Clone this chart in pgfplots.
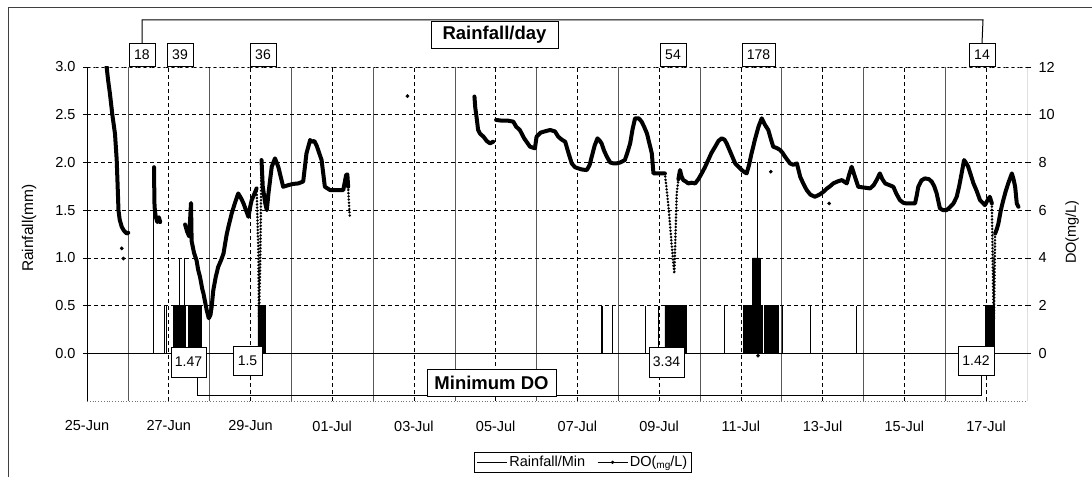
\documentclass[border=0pt]{standalone}
\usepackage{pgfplots}
\pgfplotsset{compat=1.18}
\usepackage{fontspec}
\setmainfont{Liberation Sans}
\begin{document}
\begin{tikzpicture}[x=1pt,y=1pt]
\path[use as bounding box] (0,0) rectangle (1092,477);
\draw[black!75, line width=1pt] (8,0) -- (8,469) -- (1092,469);

% ---------------- Rainfall axis (left) ----------------
\begin{axis}[
  at={(87pt,76pt)}, anchor=south west,
  width=940pt, height=334pt, scale only axis,
  xmin=0, xmax=23, ymin=-0.5, ymax=3,
  axis line style={draw=none},
  xtick={0,2,...,22},
  xticklabels={25-Jun,27-Jun,29-Jun,01-Jul,03-Jul,05-Jul,07-Jul,09-Jul,11-Jul,13-Jul,15-Jul,17-Jul},
  minor xtick={1,3,...,21},
  ytick={0,0.5,1,1.5,2,2.5,3},
  yticklabels={0.0,0.5,1.0,1.5,2.0,2.5,3.0},
  xmajorgrids, xminorgrids, ymajorgrids,
  major grid style={black, line width=0.6pt, dash pattern=on 4pt off 3pt},
  minor grid style={black!65, line width=0.6pt, solid},
  xtick style={draw=none}, minor x tick style={draw=none},
  ytick style={black, line width=0.6pt},
  tick align=outside, major tick length=4pt,
  ytick pos=left,
  tick label style={font=\fontsize{14.5}{16}\selectfont},
  xticklabel style={yshift=-12pt},
  yticklabel style={xshift=-4pt},
]
\draw[black!55, line width=0.8pt, dotted] (rel axis cs:0,1) -- (rel axis cs:1,1);
\draw[black!55, line width=0.8pt, dotted] (rel axis cs:0,0) -- (rel axis cs:1,0);
\draw[black, line width=0.9pt] (axis cs:0,0) -- (axis cs:23,0);
\draw[black, line width=0.9pt] (rel axis cs:0,0) -- (rel axis cs:0,1);
\draw[black, line width=0.9pt] (rel axis cs:1,0) -- (rel axis cs:1,1);

% rainfall per minute: dense blocks
\addplot[black, line width=0.6pt, fill=black, mark=none, forget plot] coordinates {
(2.11,0)(2.11,0.5)(2.40,0.5)(2.40,0)
(2.48,0)(2.48,0.5)(2.76,0.5)(2.76,0)
(4.18,0)(4.18,0.5)(4.36,0.5)(4.36,0)
(14.14,0)(14.14,0.5)(14.66,0.5)(14.66,0)
(16.06,0)(16.06,0.5)(16.28,0.5)(16.28,1.0)(16.47,1.0)(16.47,0.5)(16.53,0.5)(16.53,0)
(16.57,0)(16.57,0.5)(16.91,0.5)(16.91,0)
(21.98,0)(21.98,0.5)(22.20,0.5)(22.20,0)
};
% rainfall per minute: isolated minutes
\addplot[ycomb, black, line width=0.9pt, mark=none, forget plot] coordinates {
(1.62,1.5)(1.89,0.5)(1.95,0.5)(2.25,1.0)(2.38,1.0)(2.81,0.5)
(12.59,0.5)(12.61,0.5)(12.86,0.5)(13.67,0.5)(13.98,0.5)(15.60,0.5)
(16.40,2.0)(17.01,0.5)(17.70,0.5)(18.83,0.5)
};
\end{axis}

% ---------------- DO axis (right) ----------------
\begin{axis}[
  at={(87pt,76pt)}, anchor=south west,
  width=940pt, height=334pt, scale only axis,
  xmin=0, xmax=23, ymin=-2, ymax=12,
  axis x line=none, axis y line*=right,
  axis line style={draw=none},
  ytick={0,2,...,12},
  ytick style={black, line width=0.6pt},
  tick align=outside, major tick length=4pt,
  tick label style={font=\fontsize{14.5}{16}\selectfont},
  /pgf/number format/assume math mode=true,
  yticklabel style={xshift=4pt},
  unbounded coords=jump,
  legend columns=2,
  legend style={at={(0.5277,-0.1527)}, anchor=north, draw=black, line width=0.6pt,
    font=\fontsize{14.5}{16}\selectfont, inner sep=2pt,
    /tikz/every even column/.append style={column sep=10pt}},
  legend image code/.code={\draw[mark repeat=2,mark phase=2,#1] plot coordinates {(0pt,0pt) (15pt,0pt) (30pt,0pt)};},
]
\addlegendimage{black, line width=0.7pt}
\addlegendentry{Rainfall/Min}
\addlegendimage{black, line width=0.7pt, mark=*, mark size=1.3pt}
\addlegendentry{DO(\raisebox{-1.5pt}{\fontsize{10}{10}\selectfont mg}/L)}

% DO main trace
\addplot[black, line width=4pt, line join=round, line cap=round, mark=none, forget plot] coordinates {
(0.46,12.4)(0.48,12.0)(0.52,11.4)(0.56,10.9)(0.62,10.0)(0.685,9.2)(0.727,8.1)(0.75,7.0)(0.77,6.0)(0.80,5.6)(0.85,5.3)(0.90,5.15)(0.97,5.02)(1.01,5.05)
(1.3,nan)
(1.64,7.8)(1.645,7.0)(1.65,6.3)(1.66,6.0)(1.68,5.75)(1.72,5.5)(1.76,5.7)(1.79,5.5)
(2.0,nan)
(2.40,5.4)(2.45,5.1)(2.50,4.9)(2.545,6.3)(2.56,4.7)(2.62,4.2)(2.68,3.9)(2.72,3.5)(2.765,3.2)(2.82,2.7)(2.85,2.5)(2.93,1.8)(2.98,1.47)(3.02,1.6)(3.05,1.94)(3.09,2.64)(3.15,3.2)(3.21,3.62)(3.28,3.9)(3.34,4.18)(3.38,4.6)(3.42,5.0)(3.46,5.3)(3.54,5.86)(3.62,6.3)(3.70,6.70)(3.77,6.5)(3.83,6.28)(3.90,5.95)(3.95,5.72)(4.00,6.2)(4.03,6.42)(4.10,6.7)(4.15,6.91)
(4.2,nan)
(4.27,8.10)(4.30,7.0)(4.36,6.3)(4.40,6.0)(4.44,6.70)(4.52,7.82)(4.60,8.17)(4.68,7.82)(4.80,6.98)(4.93,7.05)(5.05,7.10)(5.17,7.12)(5.29,7.2)(5.37,8.38)(5.46,8.94)(5.50,8.87)(5.56,8.9)(5.62,8.70)(5.74,8.10)(5.82,6.98)(5.95,6.84)(6.10,6.84)(6.27,6.84)(6.34,7.47)(6.37,7.5)(6.39,6.98)
(7.0,nan)
(9.48,10.76)(9.50,10.3)(9.53,9.92)(9.57,9.36)(9.62,9.2)(9.70,9.08)(9.78,8.9)(9.86,8.80)(9.94,8.87)
(9.97,nan)
(10.01,9.78)(10.15,9.75)(10.30,9.75)(10.43,9.71)(10.50,9.5)(10.59,9.36)(10.70,9.0)(10.84,8.66)(10.96,8.59)
(11.00,9.08)(11.10,9.25)(11.20,9.30)(11.33,9.36)(11.45,9.30)(11.53,9.08)(11.62,8.95)(11.70,8.87)(11.78,8.4)(11.86,7.96)(11.94,7.8)(12.02,7.75)(12.12,7.70)(12.23,7.68)(12.30,7.9)(12.35,8.24)(12.42,8.7)(12.49,9.01)(12.55,8.9)(12.59,8.80)(12.65,8.5)(12.72,8.24)(12.80,8.0)(12.88,7.96)(12.96,7.96)(13.05,8.0)(13.16,8.10)(13.22,8.4)(13.29,8.80)(13.35,9.4)(13.41,9.85)(13.50,9.85)(13.57,9.71)(13.63,9.5)(13.70,9.22)(13.76,8.8)(13.82,8.38)(13.86,7.54)(13.95,7.54)(14.05,7.54)(14.14,7.54)
(14.3,nan)
(14.47,7.3)(14.51,7.68)(14.55,7.4)(14.59,7.26)(14.65,7.2)(14.71,7.12)(14.80,7.15)(14.88,7.12)(14.96,7.3)(15.04,7.54)(15.12,7.8)(15.20,8.10)(15.28,8.4)(15.37,8.66)(15.45,8.9)(15.53,9.01)(15.60,8.95)(15.65,8.80)(15.75,8.4)(15.86,7.96)(15.95,7.8)(16.02,7.68)(16.08,7.6)(16.14,7.54)(16.20,7.9)(16.26,8.38)(16.35,9.0)(16.43,9.50)(16.51,9.85)(16.58,9.6)(16.67,9.36)(16.73,9.0)(16.79,8.66)(16.88,8.6)(16.96,8.52)(17.02,8.4)(17.08,8.24)(17.20,7.96)(17.28,7.9)(17.37,7.96)(17.45,7.40)(17.53,7.1)(17.61,6.84)(17.70,6.65)(17.81,6.56)(17.92,6.65)(18.02,6.77)(18.10,6.9)(18.18,7.0)(18.26,7.12)(18.36,7.2)(18.47,7.26)(18.59,7.12)(18.65,7.5)(18.71,7.82)(18.79,7.40)(18.87,6.98)(19.00,6.95)(19.16,6.91)(19.25,7.05)(19.32,7.26)(19.40,7.54)(19.46,7.3)(19.53,7.12)(19.63,7.05)(19.73,6.98)(19.80,6.7)(19.89,6.42)(19.98,6.3)(20.06,6.28)(20.16,6.28)(20.26,6.28)(20.30,6.6)(20.34,6.98)(20.42,7.25)(20.50,7.33)(20.60,7.3)(20.67,7.19)(20.73,7.0)(20.79,6.70)(20.84,6.3)(20.87,6.07)(20.95,6.0)(21.03,6.00)(21.10,6.1)(21.20,6.28)(21.28,6.56)(21.34,7.0)(21.40,7.54)(21.46,8.10)(21.52,7.95)(21.56,7.82)(21.62,7.5)(21.69,7.12)(21.77,6.8)(21.85,6.42)(21.92,6.3)(21.97,6.21)(22.03,6.4)(22.09,6.56)(22.14,6.28)
(22.17,nan)
(22.22,5.02)(22.26,5.2)(22.30,5.44)(22.36,6.0)(22.42,6.42)(22.48,6.8)(22.54,7.12)(22.60,7.4)(22.63,7.54)(22.67,7.3)(22.71,6.98)(22.75,6.28)(22.79,6.14)
};
% DO rapid drops (sparse readings, dotted)
\addplot[black, line width=2.8pt, line cap=round, dash pattern=on 0pt off 3.2pt, mark=none, forget plot] coordinates {
(4.15,6.91)(4.19,4.46)(4.21,1.5)(4.24,4.0)(4.27,8.1)
(4.5,nan)
(6.39,6.98)(6.41,6.28)(6.43,5.72)
(6.6,nan)
(14.14,7.54)(14.22,6.28)(14.27,5.30)(14.31,4.46)(14.37,3.34)(14.40,5.0)(14.43,6.70)(14.47,7.3)
(15,nan)
(22.14,6.28)(22.16,3.90)(22.18,1.94)(22.19,1.42)(22.20,2.5)(22.21,3.90)(22.22,5.02)
};
% isolated DO readings
\addplot[black, only marks, mark=*, mark size=1.7pt, forget plot] coordinates {
(0.85,4.4)(0.89,3.97)(7.84,10.78)(16.73,7.61)(18.16,6.28)(16.42,-0.1)
};
\end{axis}

% ---------------- annotations ----------------
\draw[black, line width=1pt] (142,434) -- (142,457) -- (983,457) -- (982,434);
\draw[black, line width=1pt] (197,100) -- (197,82) -- (981,82) -- (981,102);

\tikzset{vbox/.style={draw=black, fill=white, line width=0.8pt, inner sep=0pt,
  font=\fontsize{14}{15}\selectfont}}
\node[vbox, minimum width=26pt, minimum height=23pt] at (142,422.5) {18};
\node[vbox, minimum width=26pt, minimum height=23pt] at (180,422.5) {39};
\node[vbox, minimum width=26pt, minimum height=23pt] at (263,422.5) {36};
\node[vbox, minimum width=26pt, minimum height=23pt] at (673,422.5) {54};
\node[vbox, minimum width=33pt, minimum height=23pt] at (758.5,422.5) {178};
\node[vbox, minimum width=26pt, minimum height=23pt] at (982,422.5) {14};

\node[vbox, minimum width=35pt, minimum height=30pt] at (188.5,115) {1.47};
\node[vbox, minimum width=29pt, minimum height=29pt] at (247.5,116.5) {1.5};
\node[vbox, minimum width=35pt, minimum height=30pt] at (666.5,115) {3.34};
\node[vbox, minimum width=36pt, minimum height=29pt] at (976,116.5) {1.42};

\node[draw=black, fill=white, line width=0.9pt, inner sep=0pt, minimum width=127pt, minimum height=27pt,
  font=\fontsize{18.5}{20}\selectfont\bfseries] at (494.5,442.5) {Rainfall/day};
\node[draw=black, fill=white, line width=0.9pt, inner sep=0pt, minimum width=129pt, minimum height=27pt,
  font=\fontsize{18.5}{20}\selectfont\bfseries] at (491.5,94.5) {Minimum DO};

\node[rotate=90, font=\fontsize{15.5}{17}\selectfont] at (29,249) {Rainfall(mm)};
\node[rotate=90, font=\fontsize{14.5}{16}\selectfont] at (1072,245) {DO(mg/L)};
\end{tikzpicture}
\end{document}
